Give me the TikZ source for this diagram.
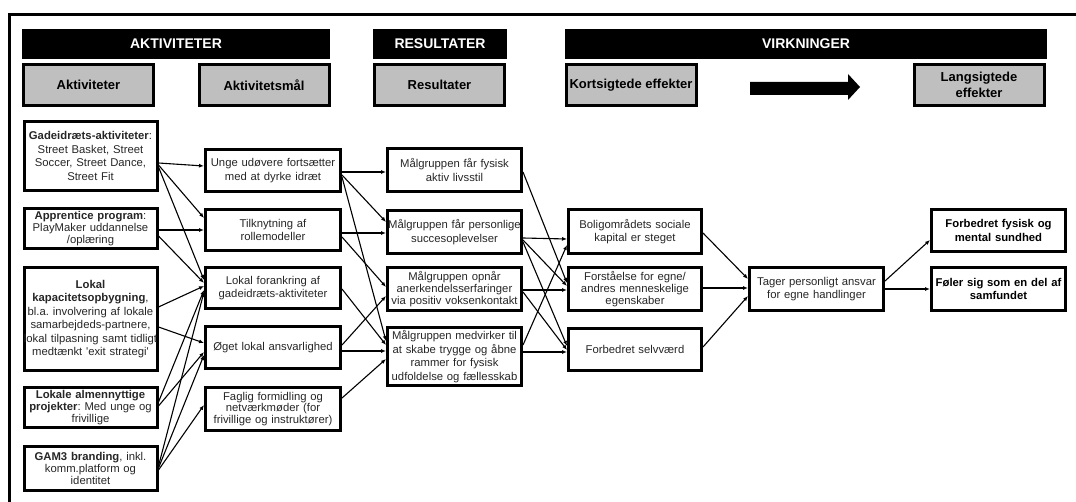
\documentclass[tikz,border=0pt]{standalone}
\usepackage{fontspec}
\setmainfont{Liberation Sans}
\usetikzlibrary{arrows.meta}
\definecolor{greyfill}{RGB}{191,191,191}
\newcommand{\ovl}[1]{\makebox[0pt][c]{#1}}
\frenchspacing
\begin{document}
\begin{tikzpicture}[x=1pt,y=-1pt,
  hdr/.style={fill=black, text=white, font=\fontsize{14}{16}\selectfont\bfseries, inner sep=0pt, minimum height=30pt},
  gbox/.style={draw, fill=greyfill, line width=3pt, font=\fontsize{13}{16}\selectfont\bfseries, align=center, inner sep=0pt, minimum width=130pt, minimum height=41pt},
  tbox/.style={draw, line width=3pt, font=\fontsize{11.3}{13.5}\selectfont, text=black!85, align=center, inner sep=0pt},
  tight/.style={font=\fontsize{11.3}{11.8}\selectfont},
  conn/.style={line width=1.1pt, -{Latex[length=5pt,width=4pt]}},
]
\useasboundingbox (0,0) rectangle (1076,502);
% outer frame
\draw[line width=3pt] (9.5,520) -- (9.5,14.5) -- (1090,14.5);

% headers
\node[hdr, minimum width=308pt] (hA) at (176,44) {AKTIVITETER};
\node[hdr, minimum width=134pt] (hR) at (440,44) {RESULTATER};
\node[hdr, minimum width=482pt] (hV) at (806,44) {VIRKNINGER};

% grey boxes
\node[gbox] (gA) at (88.5,85) {Aktiviteter};
\node[gbox] (gM) at (264,85) {Aktivitetsmål};
\node[gbox] (gR) at (439.5,85) {Resultater};
\node[gbox] (gK) at (631,85) {Kortsigtede effekter};
\node[gbox] (gL) at (979,85) {Langsigtede\\effekter};

% big arrow
\fill (750,82) -- (848,82) -- (848,74) -- (860,87) -- (848,100) -- (848,95) -- (750,95) -- cycle;

% column 1
\node[tbox, text width=133pt, minimum height=69pt] (b1) at (90.5,156) {\textbf{Gadeidræts-aktiviteter}:\\Street Basket, Street\\Soccer, Street Dance,\\Street Fit};
\node[tbox, tight, text width=133pt, minimum height=40pt] (b2) at (90.5,228.5) {\textbf{Apprentice program}:\\PlayMaker uddannelse\\/oplæring};
\node[tbox, text width=133pt, minimum height=103pt] (b3) at (90.5,319) {\textbf{Lokal}\\\textbf{kapacitetsopbygning},\\\ovl{bl.a. involvering af lokale}\\samarbejdeds-partnere,\\\ovl{lokal tilpasning samt tidligt}\\medtænkt \textquotesingle exit strategi\textquotesingle};
\node[tbox, tight, text width=133pt, minimum height=40pt] (b4) at (90.5,407.5) {\textbf{Lokale almennyttige}\\\textbf{projekter}: Med unge og\\frivillige};
\node[tbox, tight, text width=133pt, minimum height=44pt] (b5) at (90.5,468.5) {\textbf{GAM3 branding}, inkl.\\komm.platform og\\identitet};

% column 2
\node[tbox, text width=135pt, minimum height=42pt] (m1) at (273,170.5) {Unge udøvere fortsætter\\med at dyrke idræt};
\node[tbox, text width=135pt, minimum height=41pt] (m2) at (273,230) {Tilknytning af\\rollemodeller};
\node[tbox, text width=135pt, minimum height=41pt] (m3) at (273,288) {Lokal forankring af\\gadeidræts-aktiviteter};
\node[tbox, text width=135pt, minimum height=42pt] (m4) at (273,347.5) {Øget lokal ansvarlighed};
\node[tbox, tight, text width=135pt, minimum height=43pt] (m5) at (273,409) {Faglig formidling og\\netværkmøder (for\\frivillige og instruktører)};

% column 3
\node[tbox, text width=134pt, minimum height=43pt] (r1) at (454.5,170) {Målgruppen får fysisk\\aktiv livsstil};
\node[tbox, text width=134pt, minimum height=43pt] (r2) at (454.5,232) {\ovl{Målgruppen får personlige}\\succesoplevelser};
\node[tbox, tight, text width=134pt, minimum height=43pt] (r3) at (454.5,289) {Målgruppen opnår\\anerkendelsserfaringer\\via positiv voksenkontakt};
\node[tbox, text width=134pt, minimum height=58pt] (r4) at (454.5,356.5) {Målgruppen medvirker til\\at skabe trygge og åbne\\rammer for fysisk\\udfoldelse og fællesskab};

% column 4
\node[tbox, text width=133pt, minimum height=44pt] (k1) at (635,231.5) {Boligområdets sociale\\kapital er steget};
\node[tbox, tight, text width=133pt, minimum height=43pt] (k2) at (635,289) {Forståelse for egne/\\andres menneskelige\\egenskaber};
\node[tbox, text width=133pt, minimum height=42pt] (k3) at (635,349.5) {Forbedret selvværd};

% column 5
\node[tbox, text width=134pt, minimum height=43pt] (t) at (816.5,289) {Tager personligt ansvar\\for egne handlinger};

% column 6
\node[tbox, text width=134pt, minimum height=42pt, font=\fontsize{11.3}{13.5}\selectfont\bfseries, text=black] (l1) at (998.5,230.5) {Forbedret fysisk og\\mental sundhed};
\node[tbox, text width=134pt, minimum height=43pt, font=\fontsize{11.3}{13.5}\selectfont\bfseries, text=black] (l2) at (998.5,289) {Føler sig som en del af\\samfundet};

% col1 -> col2
\draw[conn] ([yshift=-7pt]b1.east) -- ([yshift=4.5pt]m1.west);
\draw[conn] ([yshift=-9pt]b1.east) -- ([yshift=12pt]m2.west);
\draw[conn] ([yshift=-11pt]b1.east) -- ([yshift=8pt]m3.west);
\draw[conn] ([yshift=-1.5pt]b2.east) -- ([yshift=0pt]m2.west);
\draw[conn] ([yshift=-7.5pt]b2.east) -- ([yshift=5pt]m3.west);
\draw[conn] ([yshift=12pt]b3.east) -- ([yshift=2pt]m3.west);
\draw[conn] ([yshift=-8pt]b3.east) -- ([yshift=4.5pt]m4.west);
\draw[conn] ([yshift=5.5pt]b4.east) -- ([yshift=-2pt]m3.west);
\draw[conn] ([yshift=1.5pt]b4.east) -- ([yshift=-4.5pt]m4.west);
\draw[conn] ([yshift=2.5pt]b5.east) -- ([yshift=-4pt]m3.west);
\draw[conn] ([yshift=0.5pt]b5.east) -- ([yshift=-7.5pt]m4.west);
\draw[conn] ([yshift=-1.5pt]b5.east) -- ([yshift=4pt]m5.west);

% col2 -> col3
\draw[conn] ([yshift=-1.5pt]m1.east) -- ([yshift=-2pt]r1.west);
\draw[conn] ([yshift=-4.5pt]m1.east) -- ([yshift=10pt]r2.west);
\draw[conn] ([yshift=-6.5pt]m1.east) -- ([yshift=15.5pt]r4.west);
\draw[conn] ([yshift=-3pt]m2.east) -- ([yshift=-1pt]r2.west);
\draw[conn] ([yshift=-7pt]m2.east) -- ([yshift=2pt]r3.west);
\draw[conn] ([yshift=-1pt]m3.east) -- ([yshift=11.5pt]r4.west);
\draw[conn] ([yshift=2.5pt]m4.east) -- ([yshift=-7pt]r3.west);
\draw[conn] ([yshift=-3.5pt]m4.east) -- ([yshift=5.5pt]r4.west);
\draw[conn] ([yshift=11pt]m5.east) -- ([yshift=-2.5pt]r4.west);

% col3 -> col4
\draw[conn] ([yshift=-2pt]r1.east) -- ([yshift=6pt]k2.west);
\draw[conn] ([yshift=-6pt]r2.east) -- ([yshift=-7.5pt]k1.west);
\draw[conn] ([yshift=-8pt]r2.east) -- ([yshift=3pt]k2.west);
\draw[conn] ([yshift=-10pt]r2.east) -- ([yshift=3.5pt]k3.west);
\draw[conn] ([yshift=-1pt]r3.east) -- ([yshift=-1pt]k2.west);
\draw[conn] ([yshift=-3pt]r3.east) -- ([yshift=-0.5pt]k3.west);
\draw[conn] ([yshift=11.5pt]r4.east) -- ([yshift=-13.5pt]k1.west);
\draw[conn] ([yshift=4.5pt]r4.east) -- ([yshift=-2.5pt]k3.west);

% col4 -> col5
\draw[conn] ([yshift=-1.5pt]k1.east) -- ([yshift=10pt]t.west);
\draw[conn] ([yshift=1pt]k2.east) -- ([yshift=1pt]t.west);
\draw[conn] ([yshift=2.5pt]k3.east) -- ([yshift=-7pt]t.west);

% col5 -> col6
\draw[conn] ([yshift=8pt]t.east) -- ([yshift=-9.5pt]l1.west);
\draw[conn] ([yshift=0pt]t.east) -- ([yshift=0pt]l2.west);
\end{tikzpicture}
\end{document}
